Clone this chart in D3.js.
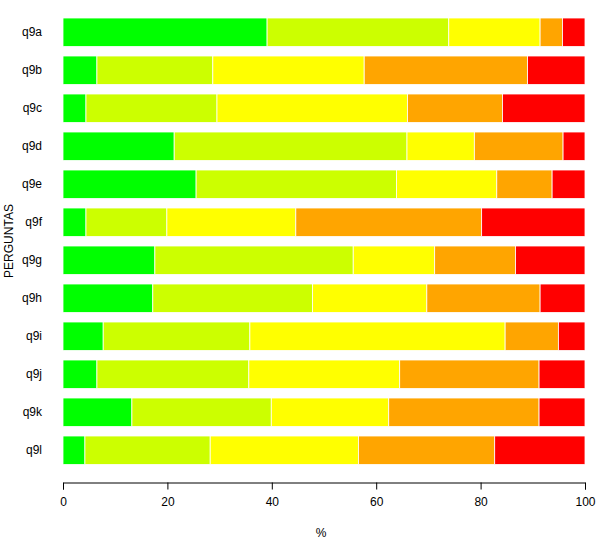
<!doctype html>
<html lang="en">
<head>
<meta charset="utf-8">
<title>PERGUNTAS</title>
<script src="https://cdn.jsdelivr.net/npm/d3@7"></script>
<style>
  body { margin: 0; background: #fff; }
  text { font-family: "Liberation Sans", Arial, sans-serif; }
</style>
</head>
<body>
<script>

// categories, top to bottom
var questions = ["q9a", "q9b", "q9c", "q9d", "q9e", "q9f", "q9g", "q9h", "q9i", "q9j", "q9k", "q9l"];

// one array per answer level (percent), same order as questions
var level1 = [39.1,  6.5,  4.4, 21.3, 25.5,  4.4, 17.6, 17.2,  7.7,  6.5, 13.2,  4.2];
var level2 = [34.8, 22.2, 25.1, 44.6, 38.4, 15.5, 38.0, 30.6, 28.1, 29.1, 26.7, 24.0];
var level3 = [17.5, 29.0, 36.5, 12.9, 19.2, 24.7, 15.6, 21.9, 48.9, 28.9, 22.5, 28.4];
var level4 = [ 4.3, 31.3, 18.2, 17.0, 10.6, 35.6, 15.5, 21.7, 10.2, 26.7, 28.8, 26.1];
var level5 = [ 4.3, 11.0, 15.8,  4.2,  6.3, 19.8, 13.3,  8.6,  5.1,  8.8,  8.8, 17.3];

var xTicks = [0, 20, 40, 60, 80, 100];
var levelColors = ["#00FF00", "#CCFF00", "#FFFF00", "#FFA500", "#FF0000"];

var width = 600;
var height = 540;

var levels = [level1, level2, level3, level4, level5];

// build rows for d3.stack
var rows = questions.map(function(q, i) {
    var r = { q: q };
    levels.forEach(function(l, j) { r["k" + j] = l[i]; });
    return r;
});

var keys = levels.map(function(l, j) { return "k" + j; });
var series = d3.stack().keys(keys)(rows);

var x = d3.scaleLinear().domain([0, 100]).range([63, 585]);
var y = d3.scaleBand().domain(questions).range([13.25, 469.25])
          .paddingInner(0.25).paddingOuter(0.125);

var svg = d3.select("body").append("svg")
    .attr("width", width)
    .attr("height", height);

svg.append("g")
   .selectAll("g")
   .data(series)
   .enter().append("g")
   .attr("fill", function(d, i) { return levelColors[i]; })
   .selectAll("rect")
   .data(function(d) { return d; })
   .enter().append("rect")
   .attr("x", function(d) { return x(d[0]); })
   .attr("y", function(d) { return y(d.data.q); })
   .attr("width", function(d) { return x(d[1]) - x(d[0]); })
   .attr("height", y.bandwidth())
   .attr("stroke", "#fff")
   .attr("stroke-width", 0.8);

// category labels
svg.append("g")
   .selectAll("text")
   .data(questions)
   .enter().append("text")
   .attr("x", 42)
   .attr("y", function(d) { return y(d) + y.bandwidth() / 2; })
   .attr("dy", "0.35em")
   .attr("text-anchor", "end")
   .attr("font-size", 12)
   .attr("fill", "#000")
   .text(function(d) { return d; });

// x axis
var xAxis = d3.axisBottom(x).tickValues(xTicks).tickSize(7).tickPadding(8);
var ax = svg.append("g")
    .attr("transform", "translate(0,482.5)")
    .call(xAxis);
ax.select(".domain").attr("stroke", "#000");
ax.selectAll(".tick line").attr("stroke", "#000");
ax.selectAll(".tick text")
  .attr("font-size", 12)
  .attr("fill", "#000")
  .style("font-family", "'Liberation Sans', Arial, sans-serif");

// axis titles
svg.append("text")
   .attr("x", 321)
   .attr("y", 537)
   .attr("text-anchor", "middle")
   .attr("font-size", 12)
   .text("%");

svg.append("text")
   .attr("transform", "translate(13,241) rotate(-90)")
   .attr("text-anchor", "middle")
   .attr("font-size", 12)
   .text("PERGUNTAS");

</script>
</body>
</html>
